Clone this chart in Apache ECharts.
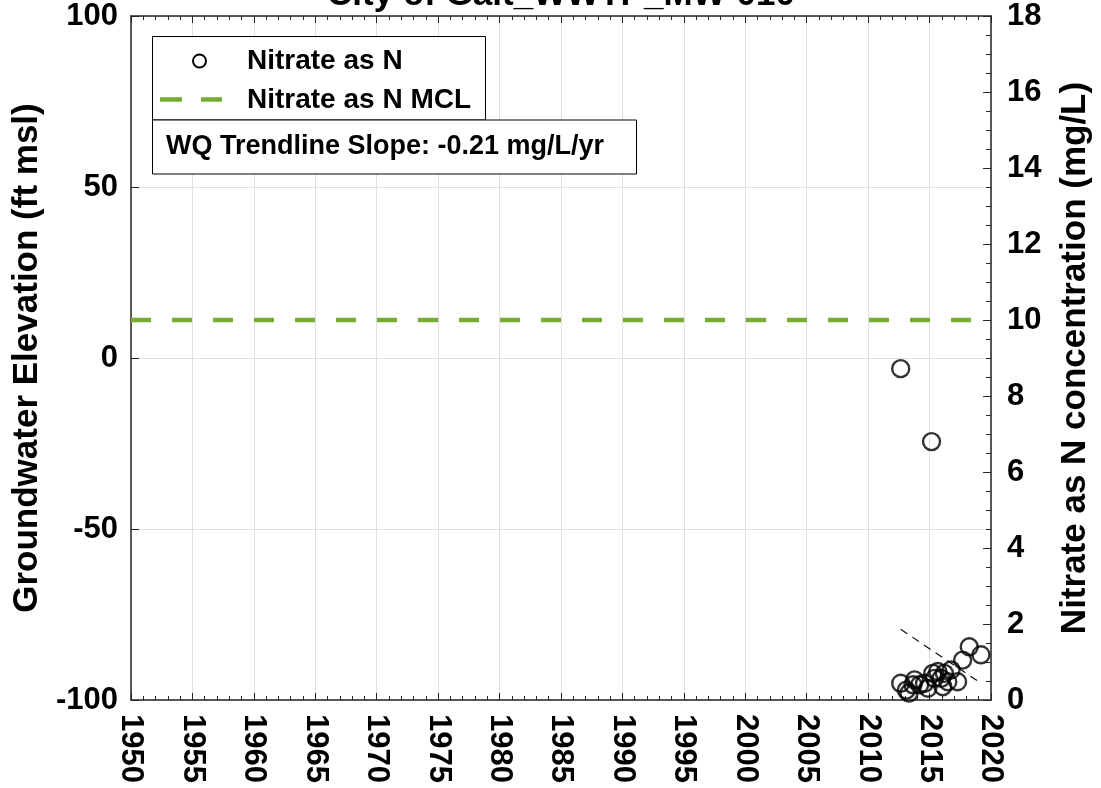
<!DOCTYPE html>
<html>
<head>
<meta charset="utf-8">
<script src="https://cdn.jsdelivr.net/npm/echarts@6/dist/echarts.min.js"></script>
<style>
html,body{margin:0;padding:0;background:#fff;}
#chart{width:1101px;height:788px;}
</style>
</head>
<body>
<div id="chart"></div>
<script>
// ---- data ----
const titleText = 'City of Galt_WWTP_MW-010';
const leftAxisName = 'Groundwater Elevation (ft msl)';
const rightAxisName = 'Nitrate as N concentration (mg/L)';
const seriesNames = ['Nitrate as N', 'Nitrate as N MCL'];
const slopeText = 'WQ Trendline Slope: -0.21 mg/L/yr';

const sampleYears = [2012.65, 2015.16, 2012.65, 2013.11, 2013.32, 2013.65, 2013.78, 2014.19, 2014.59, 2014.86,
  2015.26, 2015.40, 2015.67, 2015.94, 2016.08, 2016.21, 2016.48, 2016.75, 2017.28, 2017.69, 2018.23, 2019.18];
const nitrateValues = [8.72, 6.80, 0.44, 0.26, 0.18, 0.40, 0.53, 0.40, 0.44, 0.31,
  0.70, 0.57, 0.75, 0.57, 0.35, 0.70, 0.48, 0.79, 0.48, 1.05, 1.40, 1.19];

const mclYears = [1950, 2020];
const mclValues = [10, 10];

const trendYears = [2012.65, 2019.05];
const trendValues = [1.86, 0.47];

const xTicks = {min: 1950, max: 2020, interval: 5};
const leftTicks = {min: -100, max: 100, interval: 50};
const rightTicks = {min: 0, max: 18, interval: 2};

// ---- chart ----
const chart = echarts.init(document.getElementById('chart'));
const FONT = '"Liberation Sans", Arial, Helvetica, sans-serif';
const AX = '#262626';
const GRID = '#e0e0e0';

const pts = sampleYears.map((y, i) => [y, nitrateValues[i]]);
const mcl = mclYears.map((y, i) => [y, mclValues[i]]);
const trend = trendYears.map((y, i) => [y, trendValues[i]]);

const option = {
  animation: false,
  backgroundColor: '#fff',
  title: {
    text: titleText,
    left: 556, textAlign: 'center', top: -27,
    textStyle: {fontFamily: FONT, fontWeight: 'bold', fontSize: 35, color: '#000'}
  },
  grid: {left: 131, right: 104, top: 16, bottom: 88, containLabel: false},
  xAxis: [{
    type: 'value', min: xTicks.min, max: xTicks.max, interval: xTicks.interval,
    position: 'bottom',
    axisLine: {show: true, onZero: false, lineStyle: {color: AX, width: 1.5}},
    axisTick: {show: true, inside: true, length: 7, lineStyle: {color: AX, width: 1}},
    minorTick: {show: true, splitNumber: 5, length: 4, lineStyle: {color: AX, width: 1}},
    splitLine: {show: true, lineStyle: {color: GRID, width: 1}},
    axisLabel: {rotate: -90, margin: 14, fontFamily: FONT, fontWeight: 'bold', fontSize: 31, color: '#000',
      formatter: v => String(v)}
  }, {
    type: 'value', min: xTicks.min, max: xTicks.max, interval: xTicks.interval,
    position: 'top',
    axisLine: {show: true, onZero: false, lineStyle: {color: AX, width: 1.5}},
    axisTick: {show: true, inside: true, length: 7, lineStyle: {color: AX, width: 1}},
    minorTick: {show: true, splitNumber: 5, length: 4, lineStyle: {color: AX, width: 1}},
    splitLine: {show: false},
    axisLabel: {show: false}
  }],
  yAxis: [{
    type: 'value', min: leftTicks.min, max: leftTicks.max, interval: leftTicks.interval,
    position: 'left',
    name: leftAxisName, nameLocation: 'middle', nameRotate: 90, nameGap: 79,
    nameTextStyle: {fontFamily: FONT, fontWeight: 'bold', fontSize: 35, color: '#000'},
    axisLine: {show: true, onZero: false, lineStyle: {color: AX, width: 1.5}},
    axisTick: {show: true, inside: true, length: 8, lineStyle: {color: AX, width: 1}},
    splitLine: {show: true, lineStyle: {color: GRID, width: 1}},
    axisLabel: {margin: 13, fontFamily: FONT, fontWeight: 'bold', fontSize: 31, color: '#000'}
  }, {
    type: 'value', min: rightTicks.min, max: rightTicks.max, interval: rightTicks.interval,
    position: 'right',
    name: rightAxisName, nameLocation: 'middle', nameRotate: 90, nameGap: 67,
    nameTextStyle: {fontFamily: FONT, fontWeight: 'bold', fontSize: 35, color: '#000', verticalAlign: 'top'},
    axisLine: {show: true, onZero: false, lineStyle: {color: AX, width: 1.5}},
    axisTick: {show: true, inside: true, length: 8, lineStyle: {color: AX, width: 1}},
    minorTick: {show: true, splitNumber: 4, length: 5, lineStyle: {color: AX, width: 1}},
    splitLine: {show: false},
    axisLabel: {margin: 16, fontFamily: FONT, fontWeight: 'bold', fontSize: 31, color: '#000'}
  }],
  series: [{
    name: seriesNames[1], type: 'line', yAxisIndex: 1, data: mcl,
    symbol: 'none', z: 3,
    lineStyle: {color: '#77AC30', width: 4.5, type: [20, 21]}
  }, {
    name: 'trend', type: 'line', yAxisIndex: 1, data: trend,
    symbol: 'none', z: 4,
    lineStyle: {color: '#111', width: 1.2, type: [8, 6]}
  }, {
    name: seriesNames[0], type: 'scatter', yAxisIndex: 1, data: pts,
    symbol: 'circle', symbolSize: 17, z: 5,
    itemStyle: {color: 'rgba(0,0,0,0)', borderColor: '#000', borderWidth: 2.4}
  }],
  graphic: [
    {type: 'rect', shape: {x: 152.5, y: 36.5, width: 333, height: 83.5},
      style: {fill: '#fff', stroke: '#000', lineWidth: 1}, z: 100},
    {type: 'circle', shape: {cx: 199.5, cy: 61, r: 6.5},
      style: {fill: 'none', stroke: '#000', lineWidth: 2}, z: 101},
    {type: 'line', shape: {x1: 160, y1: 99.5, x2: 182, y2: 99.5},
      style: {stroke: '#77AC30', lineWidth: 4.5}, z: 101},
    {type: 'line', shape: {x1: 201, y1: 99.5, x2: 222, y2: 99.5},
      style: {stroke: '#77AC30', lineWidth: 4.5}, z: 101},
    {type: 'text', x: 247, y: 61, z: 101,
      style: {text: seriesNames[0], fill: '#000', font: 'bold 28px ' + FONT, textVerticalAlign: 'middle', verticalAlign: 'middle'}},
    {type: 'text', x: 247, y: 100, z: 101,
      style: {text: seriesNames[1], fill: '#000', font: 'bold 28px ' + FONT, textVerticalAlign: 'middle', verticalAlign: 'middle'}},
    {type: 'rect', shape: {x: 152.5, y: 120, width: 484, height: 54},
      style: {fill: '#fff', stroke: '#000', lineWidth: 1}, z: 100},
    {type: 'text', x: 166, y: 147, z: 101,
      style: {text: slopeText, fill: '#000', font: 'bold 27px ' + FONT, textVerticalAlign: 'middle', verticalAlign: 'middle'}}
  ]
};
chart.setOption(option);
</script>
</body>
</html>
